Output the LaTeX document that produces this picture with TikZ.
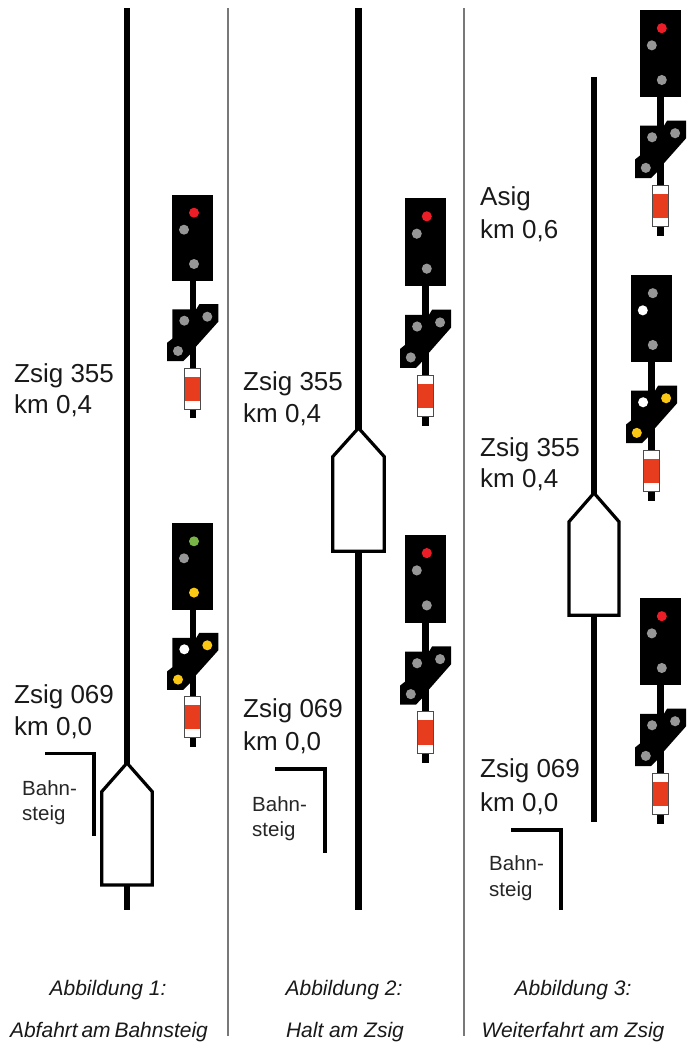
\documentclass[tikz,border=0pt]{standalone}
\usepackage{fontspec}
\setmainfont{Liberation Sans}
\definecolor{lampgray}{RGB}{150,150,150}
\definecolor{lampred}{RGB}{235,30,40}
\definecolor{lampgreen}{RGB}{120,180,70}
\definecolor{lampyellow}{RGB}{250,200,20}
\definecolor{markred}{RGB}{232,60,30}
\definecolor{sepgray}{RGB}{120,120,120}
\tikzset{
  x=1pt,y=-1pt,
  track/.style={line width=6.5pt,draw=black},
  trainbody/.style={line width=3.2pt,draw=black,fill=white,miter limit=10},
  platform/.style={line width=3.6pt,draw=black},
  separator/.style={line width=1.1pt,draw=sepgray},
  label/.style={anchor=base west,inner sep=0pt,font=\fontsize{26}{30}\selectfont,text=black!90},
  small/.style={anchor=base west,inner sep=0pt,font=\fontsize{20.5}{24}\selectfont,text=black!85},
  caption/.style={anchor=base,inner sep=0pt,font=\fontsize{21}{24}\selectfont\itshape,text=black!90},
  lamp/.style={fill=#1,draw=none},
  pics/signal/.style n args={6}{code={
    \fill[black] (-3.2,80) rectangle (3.2,223.6);
    \fill[black] (-20.4,0) rectangle (20.4,86.6);
    \fill[black] (-20.4,114.6) -- (3.5,114.6) -- (6.6,109.5) -- (25.6,109.5) -- (25.6,127)
       -- (3.2,152) -- (3.2,160) -- (-3,160) -- (-9.5,166.5) -- (-25.5,166.5) -- (-25.5,148)
       -- (-20.4,144) -- cycle;
    \fill[lamp=#1] (1.3,18) circle[radius=5];
    \fill[lamp=#2] (-8.7,35) circle[radius=5];
    \fill[lamp=#3] (1.3,69.3) circle[radius=5];
    \fill[lamp=#4] (-8.4,126) circle[radius=5];
    \fill[lamp=#5] (14.6,122) circle[radius=5];
    \fill[lamp=#6] (-14.7,156.3) circle[radius=5];
    \filldraw[fill=white,draw=black!70,line width=1.1pt] (-8.2,173.6) rectangle (8.2,214.6);
    \fill[markred] (-7.6,182) rectangle (7.6,206);
  }},
}
\begin{document}
\begin{tikzpicture}
\useasboundingbox (0,0) rectangle (694,1043);
\coordinate (sepAtop) at (228,8); \coordinate (sepAbot) at (228,1036);
\coordinate (sepBtop) at (464,8); \coordinate (sepBbot) at (464,1036);
\draw[separator] (sepAtop) -- (sepAbot);
\draw[separator] (sepBtop) -- (sepBbot);

% Figure 1
\coordinate (t1top) at (127,8); \coordinate (t1bot) at (127,910);
\draw[track] (t1top) -- (t1bot);
\draw[trainbody] (127,763) -- (152.3,791.7) -- (152.3,885) -- (101.7,885) -- (101.7,791.7) -- cycle;
\draw[platform] (45,753.5) -- (94,753.5) -- (94,836);
\pic[shift={(192.7,194.7)}] {signal={lampred}{lampgray}{lampgray}{lampgray}{lampgray}{lampgray}};
\pic[shift={(192.7,523.3)}] {signal={lampgreen}{lampgray}{lampyellow}{white}{lampyellow}{lampyellow}};
\node[label] (z1a) at (14,382) {Zsig 355};
\node[label] (k1a) at (14,413) {km 0,4};
\node[label] (z1b) at (14,703) {Zsig 069};
\node[label] (k1b) at (14,735) {km 0,0};
\node[small] (b1a) at (22,795) {Bahn-};
\node[small] (b1b) at (22,820) {steig};
\node[caption] (c1a) at (108,995) {Abbildung 1:};
\node[caption] (c1b) at (109,1037) {Abfahrt\hspace{3.8pt}am\hspace{3.8pt}Bahnsteig};

% Figure 2
\coordinate (t2top) at (358.5,8); \coordinate (t2bot) at (358.5,910);
\draw[track] (t2top) -- (t2bot);
\draw[trainbody] (358.5,428) -- (384.3,456.7) -- (384.3,551.3) -- (332.7,551.3) -- (332.7,456.7) -- cycle;
\draw[platform] (275,769) -- (325,769) -- (325,853);
\pic[shift={(425.5,198)},yscale=1.02] {signal={lampred}{lampgray}{lampgray}{lampgray}{lampgray}{lampgray}};
\pic[shift={(425.5,534.7)},yscale=1.02] {signal={lampred}{lampgray}{lampgray}{lampgray}{lampgray}{lampgray}};
\node[label] (z2a) at (243,390) {Zsig 355};
\node[label] (k2a) at (243,422) {km 0,4};
\node[label] (z2b) at (243,717) {Zsig 069};
\node[label] (k2b) at (243,750) {km 0,0};
\node[small] (b2a) at (252,811) {Bahn-};
\node[small] (b2b) at (252,836) {steig};
\node[caption] (c2a) at (344,995) {Abbildung 2:};
\node[caption] (c2b) at (345,1037) {Halt am Zsig};

% Figure 3
\coordinate (t3top) at (594,77); \coordinate (t3bot) at (594,822);
\draw[track] (t3top) -- (t3bot);
\draw[trainbody] (594,493) -- (619,521.7) -- (619,615.3) -- (569,615.3) -- (569,521.7) -- cycle;
\draw[platform] (511,830) -- (561,830) -- (561,910);
\pic[shift={(660.5,10)},yscale=1.01] {signal={lampred}{lampgray}{lampgray}{lampgray}{lampgray}{lampgray}};
\pic[shift={(651.5,275)},yscale=1.01] {signal={lampgray}{white}{lampgray}{white}{lampyellow}{lampyellow}};
\pic[shift={(660.5,598)},yscale=1.01] {signal={lampred}{lampgray}{lampgray}{lampgray}{lampgray}{lampgray}};
\node[label] (a3) at (480,205) {Asig};
\node[label] (k3o) at (480,238) {km 0,6};
\node[label] (z3a) at (480,456) {Zsig 355};
\node[label] (k3a) at (480,487) {km 0,4};
\node[label] (z3b) at (480,777) {Zsig 069};
\node[label] (k3b) at (480,811) {km 0,0};
\node[small] (b3a) at (489,870) {Bahn-};
\node[small] (b3b) at (489,896) {steig};
\node[caption] (c3a) at (573,995) {Abbildung 3:};
\node[caption] (c3b) at (573,1037) {Weiterfahrt am Zsig};
\end{tikzpicture}
\end{document}
